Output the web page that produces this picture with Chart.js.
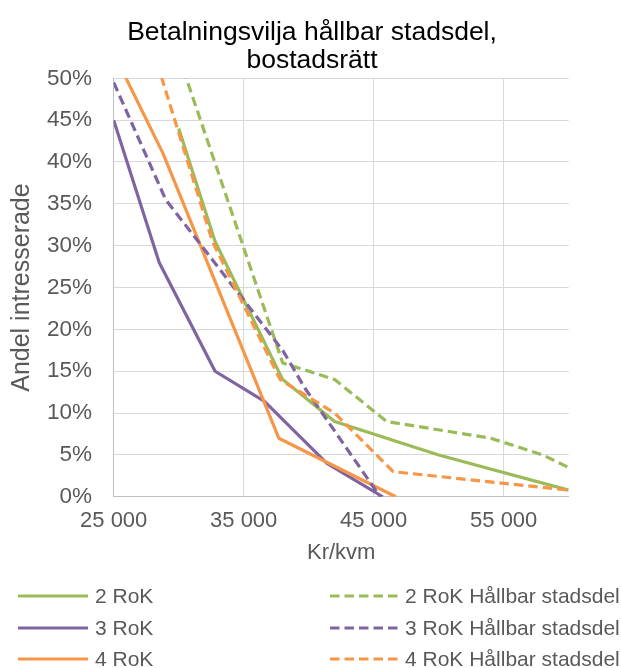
<!DOCTYPE html>
<html>
<head>
<meta charset="utf-8">
<script src="https://cdn.jsdelivr.net/npm/chart.js@4/dist/chart.umd.min.js"></script>
<style>
  html, body { margin: 0; padding: 0; background: #ffffff; }
  #wrap { width: 621px; height: 668px; }
</style>
</head>
<body>
<div id="wrap"><canvas id="c" width="621" height="668"></canvas></div>
<script>
// Price levels (kr per m²) and share of interested buyers (%) per apartment size
const x2 = [30000, 32800, 38000, 42000, 50000, 60000];
const y2 = [44, 30.5, 14, 9, 5, 0.8];
const x3 = [25000, 28500, 32800, 36600, 41400, 45700];
const y3 = [45, 28, 15, 11.4, 4, 0];
const x4 = [25000, 28800, 37700, 46700];
const y4 = [53, 41, 7, 0];

// Same apartment sizes in a sustainable district
const x2h = [30000, 38000, 42000, 46000, 54000, 58000, 60000];
const y2h = [52.7, 16, 14, 9, 7, 5, 3.5];
const x3h = [25000, 29000, 38000, 39700, 45500];
const y3h = [49.5, 35.5, 17.5, 13, 0];
const x4h = [28000, 32600, 37800, 42000, 46500, 60000];
const y4h = [53.5, 30.5, 14, 10, 3, 0.8];

const seriesNames = ['2 RoK', '3 RoK', '4 RoK',
  '2 RoK Hållbar stadsdel', '3 RoK Hållbar stadsdel', '4 RoK Hållbar stadsdel'];
const xTicks = [25000, 35000, 45000, 55000];
const titleLines = ['Betalningsvilja hållbar stadsdel,', 'bostadsrätt'];

const GREEN = '#9bbb59', PURPLE = '#8064a2', ORANGE = '#f79646';
const FONT = "'Liberation Sans', Arial, sans-serif";
const TEXT = '#595959';

function pts(xs, ys) { return xs.map((x, i) => ({ x: x, y: ys[i] })); }
function series(label, xs, ys, color, dashed, order) {
  return {
    label: label,
    data: pts(xs, ys),
    borderColor: color,
    backgroundColor: color,
    borderWidth: 3.2,
    borderDash: dashed ? [9.5, 5] : [],
    borderCapStyle: 'butt',
    borderJoinStyle: 'round',
    pointRadius: 0,
    pointHoverRadius: 0,
    tension: 0,
    fill: false,
    clip: 0,
    order: order
  };
}

const datasets = [
  series(seriesNames[0], x2, y2, GREEN, false, 6),
  series(seriesNames[1], x3, y3, PURPLE, false, 5),
  series(seriesNames[2], x4, y4, ORANGE, false, 4),
  series(seriesNames[3], x2h, y2h, GREEN, true, 3),
  series(seriesNames[4], x3h, y3h, PURPLE, true, 2),
  series(seriesNames[5], x4h, y4h, ORANGE, true, 1)
];

// Two-line title centred over the canvas
const titlePlugin = {
  id: 'twoLineTitle',
  afterDraw(chart) {
    const ctx = chart.ctx;
    ctx.save();
    ctx.fillStyle = '#000000';
    ctx.font = '26.5px ' + FONT;
    ctx.textAlign = 'center';
    ctx.textBaseline = 'alphabetic';
    ctx.fillText(titleLines[0], 312, 40);
    ctx.fillText(titleLines[1], 312, 68);
    ctx.restore();
  }
};

// Legend in two columns: plain series left, sustainable-district series right
const legendPlugin = {
  id: 'twoColumnLegend',
  afterDraw(chart) {
    const ctx = chart.ctx;
    const rowsY = [596, 628, 659];
    const cols = [{ x0: 18, x1: 88, tx: 95 }, { x0: 330, x1: 400, tx: 405 }];
    ctx.save();
    ctx.font = '21px ' + FONT;
    ctx.textBaseline = 'middle';
    ctx.textAlign = 'left';
    chart.data.datasets.forEach((ds, i) => {
      const col = cols[i < 3 ? 0 : 1];
      const y = rowsY[i % 3];
      ctx.beginPath();
      ctx.strokeStyle = ds.borderColor;
      ctx.lineWidth = ds.borderWidth;
      ctx.lineCap = ds.borderCapStyle;
      ctx.setLineDash(ds.borderDash);
      ctx.moveTo(col.x0, y);
      ctx.lineTo(col.x1, y);
      ctx.stroke();
      ctx.setLineDash([]);
      ctx.fillStyle = TEXT;
      ctx.fillText(ds.label, col.tx, y + 1);
    });
    ctx.restore();
  }
};

const X_AXIS_HEIGHT = 70;
const thousands = v => String(v).replace(/\B(?=(\d{3})+(?!\d))/g, ' ');

new Chart(document.getElementById('c'), {
  type: 'line',
  data: { datasets: datasets },
  options: {
    responsive: false,
    animation: false,
    events: [],
    layout: { padding: { left: 0, top: 78.3, right: 52.3, bottom: 668 - 496.8 - X_AXIS_HEIGHT } },
    plugins: { legend: { display: false }, title: { display: false }, tooltip: { enabled: false } },
    scales: {
      x: {
        type: 'linear',
        min: 25000,
        max: 60000,
        afterBuildTicks: axis => { axis.ticks = xTicks.map(v => ({ value: v })); },
        afterFit: s => { s.height = X_AXIS_HEIGHT; },
        grid: { color: '#d9d9d9', lineWidth: 1, drawTicks: false },
        border: { display: true, color: '#bfbfbf', width: 1 },
        ticks: {
          color: TEXT, font: { family: FONT, size: 22 }, padding: 11,
          maxRotation: 0, autoSkip: false,
          callback: v => thousands(v)
        },
        title: { display: true, text: 'Kr/kvm', color: TEXT, font: { family: FONT, size: 22 }, padding: { top: 0, bottom: 0.6 } }
      },
      y: {
        type: 'linear',
        min: 0,
        max: 50,
        afterFit: s => { s.width = 113.7; },
        grid: { color: '#d9d9d9', lineWidth: 1, drawTicks: false },
        border: { display: true, color: '#bfbfbf', width: 1 },
        ticks: {
          stepSize: 5, color: TEXT, font: { family: FONT, size: 22.5 }, padding: 21.7,
          callback: v => v + '%'
        },
        title: { display: true, text: 'Andel intresserade', color: TEXT, font: { family: FONT, size: 25 }, padding: { top: 7, bottom: 0 } }
      }
    }
  },
  plugins: [titlePlugin, legendPlugin]
});
</script>
</body>
</html>
